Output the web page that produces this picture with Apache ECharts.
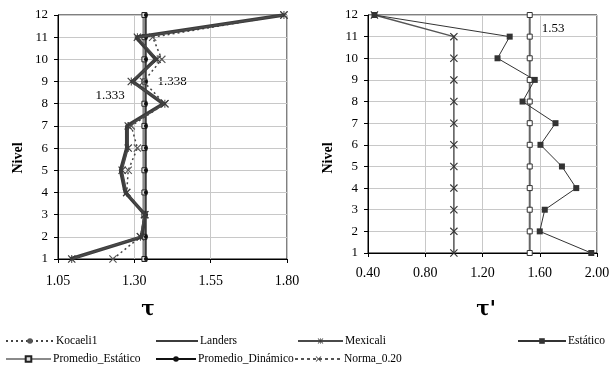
<!DOCTYPE html>
<html><head><meta charset="utf-8">
<script src="https://cdn.jsdelivr.net/npm/echarts@6/dist/echarts.min.js"></script>
<style>html,body{margin:0;padding:0;background:#fff}#c{width:613px;height:369px}</style>
</head><body><div id="c"></div>
<script>
// ---- data ----
const levels = [1,2,3,4,5,6,7,8,9,10,11,12];
const kocaeli1 = [1.23,1.32,1.335,1.275,1.28,1.31,1.29,1.40,1.33,1.39,1.36,1.79];
const landers  = [1.09,1.325,1.335,1.27,1.255,1.275,1.275,1.395,1.295,1.37,1.305,1.79];
const mexicali = [1.095,1.32,1.333,1.275,1.26,1.28,1.28,1.40,1.29,1.375,1.31,1.79];
const promEstaticoTau = [1.333,1.333,1.333,1.333,1.333,1.333,1.333,1.333,1.333,1.333,1.333,1.333];
const promDinamicoTau = [1.338,1.338,1.338,1.338,1.338,1.338,1.338,1.338,1.338,1.338,1.338,1.338];
const estatico = [1.96,1.60,1.635,1.855,1.755,1.605,1.71,1.48,1.565,1.305,1.39,0.445];
const promEstaticoTauP = [1.53,1.53,1.53,1.53,1.53,1.53,1.53,1.53,1.53,1.53,1.53,1.53];
const norma = [1.0,1.0,1.0,1.0,1.0,1.0,1.0,1.0,1.0,1.0,1.0,0.445];
const tauTicks = [1.05,1.30,1.55,1.80];
const tauPTicks = [0.40,0.80,1.20,1.60,2.00];
const legendNames = ['Kocaeli1','Landers','Mexicali','Estático','Promedio_Estático','Promedio_Dinámico','Norma_0.20'];

const pts = (vals) => vals.map((v,i)=>[v, levels[i]]);
const FONT = 'Liberation Serif';
const X_SYM = 'path://M0,1L1,0L5,4L9,0L10,1L6,5L10,9L9,10L5,6L1,10L0,9L4,5Z';
const AST_SYM = 'path://M0,1L1,0L5,4L9,0L10,1L6,5L10,9L9,10L5,6L1,10L0,9L4,5Z M4.4,0L5.6,0L5.6,10L4.4,10Z';

function xAxisCfg(idx, ticks, margin){
  return {type:'value', gridIndex:idx, min:ticks[0], max:ticks[ticks.length-1],
    interval: +(ticks[1]-ticks[0]).toFixed(2),
    axisLine:{show:true,onZero:false,lineStyle:{color:'#000',width:1}},
    axisTick:{show:true,length:4,lineStyle:{color:'#000'}},
    axisLabel:{color:'#000',fontFamily:FONT,fontSize:14,margin:margin,formatter:v=>v.toFixed(2)},
    splitLine:{show:true,lineStyle:{color:'#c8c8c8',width:1}}};
}
function yAxisCfg(idx){
  return {type:'value', gridIndex:idx, min:1, max:12, interval:1,
    axisLine:{show:true,onZero:false,lineStyle:{color:'#000',width:1}},
    axisTick:{show:true,length:4,lineStyle:{color:'#000'}},
    axisLabel:{color:'#000',fontFamily:FONT,fontSize:13,margin:10},
    splitLine:{show:true,lineStyle:{color:'#c8c8c8',width:1}}};
}

const series = [
  {name:'Promedio_Estático', type:'line', xAxisIndex:0, yAxisIndex:0, data:pts(promEstaticoTau),
   lineStyle:{color:'#8a8a8a',width:4}, symbol:'rect', symbolSize:5,
   itemStyle:{color:'#ddd',borderColor:'#222',borderWidth:1}, z:2},
  {name:'Promedio_Dinámico', type:'line', xAxisIndex:0, yAxisIndex:0, data:pts(promDinamicoTau),
   lineStyle:{color:'#111',width:1.2}, symbol:'circle', symbolSize:4,
   itemStyle:{color:'#111'}, z:3},
  {name:'Kocaeli1', type:'line', xAxisIndex:0, yAxisIndex:0,
   data:pts(kocaeli1).map(p=>({value:p, symbol:X_SYM, symbolSize:8})),
   lineStyle:{color:'#444',width:1.5,type:[2,3]}, symbol:'circle', symbolSize:4,
   itemStyle:{color:'#555'}, z:4},
  {name:'Landers', type:'line', xAxisIndex:0, yAxisIndex:0, data:pts(landers),
   lineStyle:{color:'#3c3c3c',width:3.5}, symbol:'none', itemStyle:{color:'#3c3c3c'}, z:5},
  {name:'Mexicali', type:'line', xAxisIndex:0, yAxisIndex:0, data:pts(mexicali),
   lineStyle:{color:'#4a4a4a',width:1.5}, symbol:AST_SYM, symbolSize:8,
   itemStyle:{color:'#3a3a3a'}, z:6},
  {name:'Promedio_Estático', type:'line', xAxisIndex:1, yAxisIndex:1, data:pts(promEstaticoTauP),
   lineStyle:{color:'#666',width:2}, symbol:'rect', symbolSize:5,
   itemStyle:{color:'#fff',borderColor:'#333',borderWidth:1}, z:3},
  {name:'Norma_0.20', type:'line', xAxisIndex:1, yAxisIndex:1, data:pts(norma),
   lineStyle:{color:'#555',width:1.5}, symbol:X_SYM, symbolSize:8,
   itemStyle:{color:'#333'}, z:4},
  {name:'Estático', type:'line', xAxisIndex:1, yAxisIndex:1, data:pts(estatico),
   lineStyle:{color:'#333',width:1}, symbol:'rect', symbolSize:6,
   itemStyle:{color:'#333'}, z:5}
];

// legend layout (positions only): [left, top, icon width]
const legendPos = {
  'Kocaeli1':[5,335,48], 'Landers':[155,335,42], 'Mexicali':[297,335,45], 'Estático':[517,335,48],
  'Promedio_Estático':[5,353,45], 'Promedio_Dinámico':[155,353,40], 'Norma_0.20':[294,353,47]
};
const legendOverride = {
  'Landers':{itemStyle:{opacity:0}},
  'Norma_0.20':{lineStyle:{type:[3,3]}}
};
const legends = legendNames.map(n=>({
  data:[Object.assign({name:n}, legendOverride[n]||{})],
  left:legendPos[n][0], top:legendPos[n][1], itemWidth:legendPos[n][2], itemHeight:7, itemGap:4,
  padding:0, selectedMode:false,
  textStyle:{fontFamily:FONT,fontSize:11.5,color:'#000',padding:[0,0,0,-3]}
}));

const option = {
  animation:false,
  backgroundColor:'#fff',
  grid:[
    {left:58,top:15,width:229,height:244,show:true,borderColor:'#000',borderWidth:1,backgroundColor:'transparent'},
    {left:368,top:15,width:229,height:238,show:true,borderColor:'#000',borderWidth:1,backgroundColor:'transparent'}
  ],
  xAxis:[xAxisCfg(0,tauTicks,15), xAxisCfg(1,tauPTicks,13)],
  yAxis:[yAxisCfg(0), yAxisCfg(1)],
  legend:legends,
  series:series,
  graphic:[
    {type:'text',x:18,y:158,rotation:Math.PI/2,style:{text:'Nivel',font:'bold 14px "Liberation Serif"',fill:'#000',align:'center',verticalAlign:'middle'}},
    {type:'text',x:328,y:158,rotation:Math.PI/2,style:{text:'Nivel',font:'bold 14px "Liberation Serif"',fill:'#000',align:'center',verticalAlign:'middle'}},
    {type:'text',x:148,y:310,style:{text:'τ',font:'bold 20px "DejaVu Serif"',fill:'#000',align:'center',verticalAlign:'middle'}},
    {type:'text',x:486,y:310,style:{text:'τ\'',font:'bold 20px "DejaVu Serif"',fill:'#000',align:'center',verticalAlign:'middle'}},
    {type:'text',x:110,y:96,style:{text:'1.333',font:'13px "Liberation Serif"',fill:'#000',align:'center',verticalAlign:'middle'}},
    {type:'text',x:172,y:82,style:{text:'1.338',font:'13px "Liberation Serif"',fill:'#000',align:'center',verticalAlign:'middle'}},
    {type:'text',x:553,y:29,style:{text:'1.53',font:'13px "Liberation Serif"',fill:'#000',align:'center',verticalAlign:'middle'}}
  ]
};

const chart = echarts.init(document.getElementById('c'), null, {renderer:'canvas'});
chart.setOption(option);
</script>
</body></html>
